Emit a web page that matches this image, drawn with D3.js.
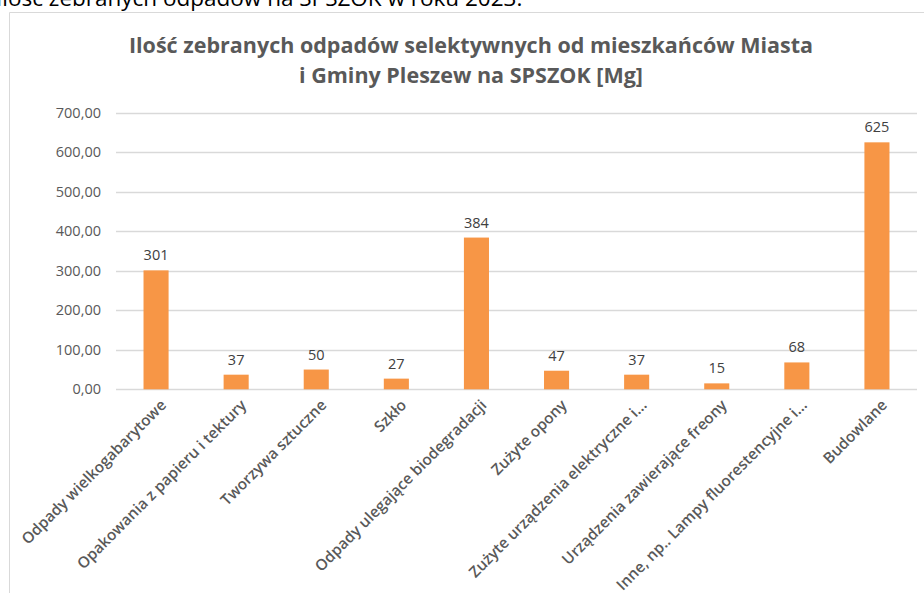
<!DOCTYPE html>
<html lang="pl">
  <head>
    <meta charset="utf-8">
    <title>SPSZOK 2023</title>
    <script src="https://d3js.org/d3.v7.min.js"></script>
    <style>
      body { margin: 0; background: #fff; }
      svg text { font-family: "Open Sans", "Noto Sans", sans-serif; }
    </style>
  </head>
  <body>
    <div id="chart"></div>
    <script type="text/javascript">
      // data
      var categories = [
        "Odpady wielkogabarytowe",
        "Opakowania z papieru i tektury",
        "Tworzywa sztuczne",
        "Szkło",
        "Odpady ulegające biodegradacji",
        "Zużyte opony",
        "Zużyte urządzenia elektryczne i...",
        "Urządzenia zawierające freony",
        "Inne, np.. Lampy fluorestencyjne i...",
        "Budowlane"
      ];
      var values = [301, 37, 50, 27, 384, 47, 37, 15, 68, 625];
      var yTicks = [0, 100, 200, 300, 400, 500, 600, 700];
      var titleLines = [
        "Ilość zebranych odpadów selektywnych od mieszkańców Miasta",
        "i Gminy Pleszew na SPSZOK [Mg]"
      ];
      var pageText = "Ilość zebranych odpadów na SPSZOK w roku 2023.";

      var width = 924, height = 593;

      var svg = d3.select("#chart")
        .append("svg")
        .attr("width", width)
        .attr("height", height);

      // text of the document above the chart (cut off at the top)
      svg.append("text")
        .attr("x", -4)
        .attr("y", 6)
        .style("font-size", "22.5px")
        .attr("fill", "#000")
        .text(pageText);

      // chart frame
      svg.append("path")
        .attr("d", "M9.5," + height + "V12.5H" + width)
        .attr("fill", "none")
        .attr("stroke", "#d9d9d9");

      // title
      svg.selectAll(".title")
        .data(titleLines)
        .enter()
        .append("text")
          .attr("class", "title")
          .attr("x", 471)
          .attr("y", (d, i) => 53 + i * 30)
          .attr("text-anchor", "middle")
          .style("font-size", "21.5px")
          .style("font-weight", "bold")
          .attr("fill", "#595959")
          .text((d) => d);

      // scales
      var x = d3.scaleBand()
        .domain(categories)
        .range([116, 917])
        .paddingInner(0.687)
        .paddingOuter(0.3435);

      var y = d3.scaleLinear()
        .domain([0, 700])
        .range([389.3, 112.7]);

      // gridlines
      svg.append("g")
        .selectAll("line")
        .data(yTicks)
        .enter()
        .append("line")
          .attr("x1", 116)
          .attr("x2", 917)
          .attr("y1", (d) => Math.round(y(d)) + 0.5)
          .attr("y2", (d) => Math.round(y(d)) + 0.5)
          .attr("stroke", "#d9d9d9")
          .attr("stroke-width", 1.3);

      // y axis labels
      var yAxis = d3.axisLeft(y)
        .tickValues(yTicks)
        .tickSize(0)
        .tickPadding(15)
        .tickFormat((d) => d3.format(".2f")(d).replace(".", ","));

      svg.append("g")
        .attr("transform", "translate(116,0)")
        .call(yAxis)
        .call((g) => g.select(".domain").remove())
        .call((g) => g.selectAll("text")
          .style("font-size", "14.5px")
          .attr("fill", "#595959"));

      // bars
      svg.selectAll(".bar")
        .data(values)
        .enter()
        .append("rect")
          .attr("class", "bar")
          .attr("x", (d, i) => x(categories[i]))
          .attr("y", (d) => y(d))
          .attr("width", x.bandwidth())
          .attr("height", (d) => y(0) - y(d))
          .attr("fill", "#f79646");

      // data labels
      svg.selectAll(".val")
        .data(values)
        .enter()
        .append("text")
          .attr("class", "val")
          .attr("x", (d, i) => x(categories[i]) + x.bandwidth() / 2)
          .attr("y", (d) => y(d) - 10)
          .attr("text-anchor", "middle")
          .style("font-size", "14.5px")
          .attr("fill", "#404040")
          .text((d) => d);

      // category labels, rotated
      svg.selectAll(".cat")
        .data(categories)
        .enter()
        .append("text")
          .attr("class", "cat")
          .attr("transform", (d) => "translate(" + (x(d) + x.bandwidth() / 2 + 3) + ",398)rotate(-45)")
          .attr("text-anchor", "end")
          .attr("dy", "0.75em")
          .style("font-size", "15.3px")
          .style("font-weight", "600")
          .attr("fill", "#595959")
          .text((d) => d);
    </script>
  </body>
</html>
